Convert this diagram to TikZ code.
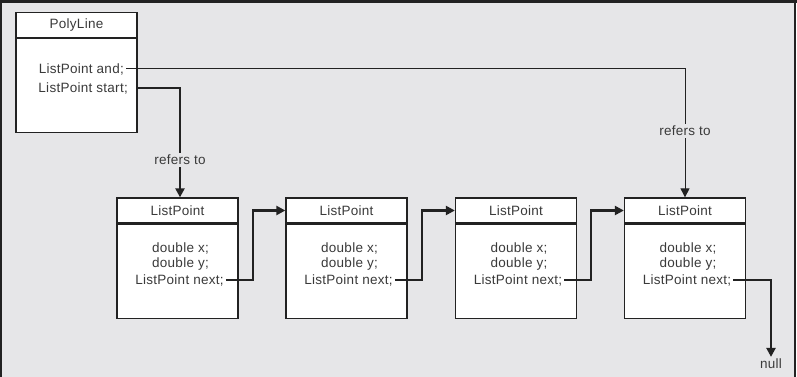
\documentclass[tikz,border=0pt]{standalone}
\usepackage{fontspec}
\setmainfont{Liberation Sans}[LetterSpace=2]
\usetikzlibrary{arrows.meta, positioning, calc}
\definecolor{panel}{HTML}{E6E6E8}
\definecolor{ink}{HTML}{222222}
\definecolor{words}{HTML}{3A3A3A}
\tikzset{
    head/.style={draw=ink, line width=1.3pt, fill=white, minimum width=121pt, minimum height=25pt, inner sep=0pt, text=words, font=\fontsize{13.5}{15}\selectfont},
    body/.style={draw=ink, line width=1.3pt, fill=white, minimum width=121pt, minimum height=94pt, inner sep=0pt},
    field/.style={inner sep=2pt, text=words, font=\fontsize{13.5}{15}\selectfont},
    ptr/.style={-{Triangle[width=9pt,length=9pt]}, line width=2.2pt, ink},
    thinptr/.style={-{Triangle[width=9pt,length=9pt]}, line width=1pt, ink},
    tag/.style={fill=panel, inner sep=2pt, text=words, font=\fontsize{13.5}{15}\selectfont}
}
\begin{document}
\begin{tikzpicture}[x=1pt, y=-1pt]
    \useasboundingbox (0,0) rectangle (797,377);
    \fill[panel] (0,0) rectangle (795,377);
    \draw[ink, line width=3pt] (0,1.5) -- (797,1.5);
    \draw[ink, line width=2pt] (1,0) -- (1,377);
    \draw[ink, line width=1.2pt] (795,0) -- (795,377);

    % PolyLine
    \node [head] (polyhead) at (76.5,25) {PolyLine};
    \node [body, below=0pt of polyhead] (polybody) {};
    \node [field, anchor=east] (pand) at (126,69) {ListPoint and;};
    \node [field, anchor=east] (pstart) at (130,88) {ListPoint start;};

    % list points
    \foreach \i/\x in {1/177.5, 2/346.5, 3/516, 4/685} {
        \node [head] (head\i) at (\x,210.5) {ListPoint};
        \node [body, below=0pt of head\i] (lp\i) {};
        \node [field] (x\i) at (\x+3,248) {double x;};
        \node [field] (y\i) at (\x+3,264) {double y;};
        \node [field] (next\i) at (\x+2,280) {ListPoint next;};
    }
    \node [field, text depth=0pt] (null) at (771,364) {null};

    \draw [ptr] (pstart.east -| polybody.east) -| node[tag, pos=0.83] {refers to} ([xshift=2.5pt]head1.north);
    \draw [thinptr] (pand.east) -| node[tag, pos=0.74] {refers to} (head4.north);
    \foreach \i/\j in {1/2, 2/3, 3/4} {
        \draw [ptr] (next\i.east) -- ++(27,0) |- (head\j.west);
    }
    \draw [ptr] (next4.east) -| (null.north);
\end{tikzpicture}
\end{document}
